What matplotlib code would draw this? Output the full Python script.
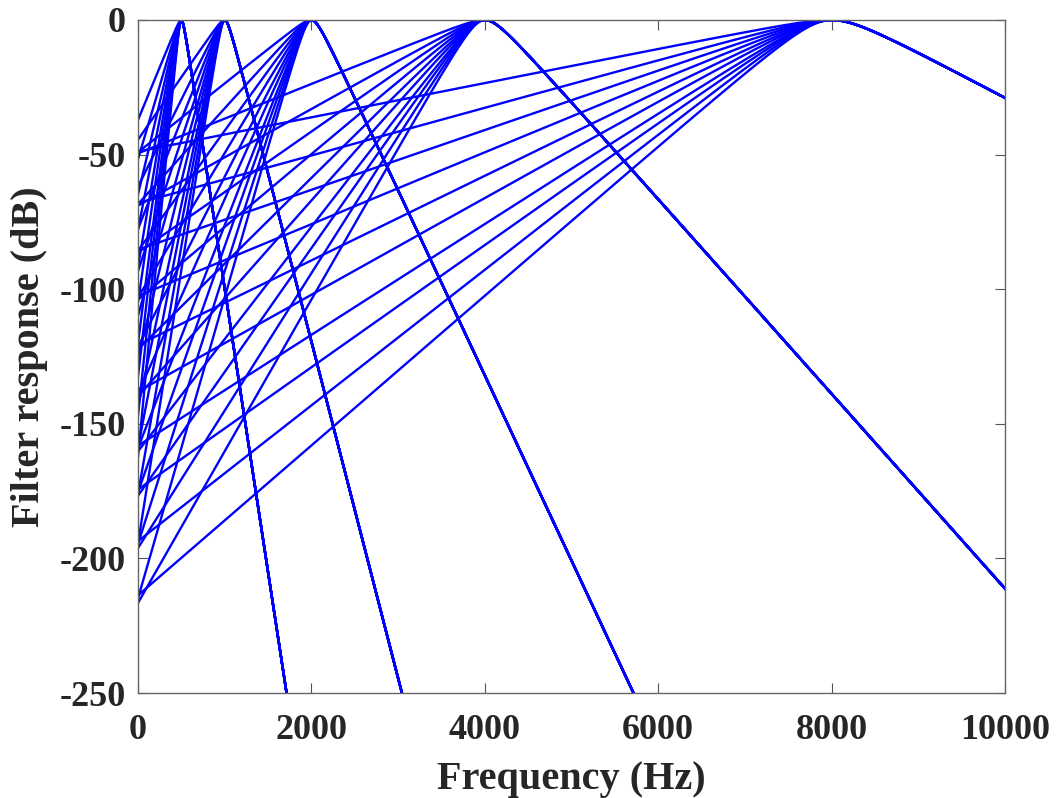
import numpy as np
import matplotlib
matplotlib.use("Agg")
import matplotlib.pyplot as plt

# ---- data ----
# centre frequency of each octave group (Hz)
centers = [500, 1000, 2000, 4000, 8000]
# width of each group (Hz) that scales its skirts
bandwidths = [650, 1095, 1990, 3950, 8000]
# rising-skirt steepness of the ten filters in each group (dB per unit width)
rising = [51, 71, 89, 107, 126, 144, 165, 182, 202, 223]
# falling-skirt steepness of each group (dB per unit width)
falling = [137, 137, 137, 143, 137]
# rounding of the peak (fraction of width)
roundness = 0.0425

xticks = [0, 2000, 4000, 6000, 8000, 10000]
yticks = [-250, -200, -150, -100, -50, 0]

plt.rcParams['font.family'] = ['Liberation Serif', 'DejaVu Serif']
plt.rcParams['font.weight'] = 'bold'

fig = plt.figure(figsize=(10.56, 7.98), dpi=100)
ax = fig.add_axes([138/1056, 1 - 693/798, (1005 - 138)/1056, (693 - 20)/798])

f = np.linspace(0, 10000, 5001)
for fc, bw, fall in zip(centers, bandwidths, falling):
    u = (f - fc) / bw
    h = np.sqrt(u**2 + roundness**2) - roundness
    for a in rising:
        y = -np.where(u < 0, a * h, fall * h)
        ax.plot(f, y, color=(0, 0, 1), lw=1.7, solid_joinstyle='round')

ax.set_xlim(0, 10000)
ax.set_ylim(-250, 0)
ax.set_xticks(xticks)
ax.set_yticks(yticks)
ax.set_xticklabels([str(v) for v in xticks])
ax.set_yticklabels([str(v) for v in yticks])

txtc = '#262626'
ax.tick_params(direction='in', length=7, width=0.8, color='#555555',
               top=True, right=True, labelsize=26, labelcolor=txtc)
ax.tick_params(axis='x', pad=15)
ax.tick_params(axis='y', pad=9)
for lab in ax.get_xticklabels() + ax.get_yticklabels():
    lab.set_fontweight('bold')
for s in ax.spines.values():
    s.set_color('#666666')
    s.set_linewidth(1.0)

ax.set_xlabel('Frequency (Hz)', fontsize=29, fontweight='bold', color=txtc, labelpad=10)
ax.set_ylabel('Filter response (dB)', fontsize=29, fontweight='bold', color=txtc, labelpad=8)

fig.savefig('out.png', dpi=100)
